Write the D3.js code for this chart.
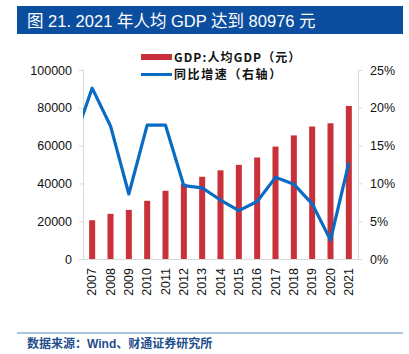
<!DOCTYPE html>
<html><head><meta charset="utf-8">
<script src="https://cdn.jsdelivr.net/npm/d3@7"></script>
<style>body{margin:0;background:#fff}svg{display:block}</style>
</head><body>
<svg id="c" width="409" height="354"></svg>
<script>
const years = ["2007","2008","2009","2010","2011","2012","2013","2014","2015","2016","2017","2018","2019","2020","2021"];
const gdpPerCapita = [20500,23900,26000,30800,36100,39800,43500,46900,49800,53700,59500,65400,70100,71800,80976];
const growth = [22.6,17.6,8.6,17.7,17.7,9.7,9.4,7.8,6.4,7.6,10.8,9.9,7.3,2.5,12.7];
const growthPrev2006 = 15.6;
const leftTicks = [0,20000,40000,60000,80000,100000];
const rightTicks = [0,5,10,15,20,25];

const svg = d3.select("#c");
const m = {l:83, r:358, t:70, b:259};
const font = "'Liberation Sans', Arial, sans-serif";
const cjk = "'Noto Sans CJK SC', sans-serif";
const mixed = "'Liberation Sans', 'Noto Sans CJK SC', sans-serif";

// title bar
svg.append("rect").attr("x",17).attr("y",6).attr("width",386).attr("height",28).attr("fill","#0b4d9e");
svg.append("text").attr("x",27).attr("y",27).attr("fill","#fff").attr("font-family",mixed)
  .attr("font-size",16.5).text("图 21. 2021 年人均 GDP 达到 80976 元");

const x = d3.scaleBand().domain(years).range([m.l,m.r]);
const yL = d3.scaleLinear().domain([0,100000]).range([m.b,m.t]);
const yR = d3.scaleLinear().domain([0,25]).range([m.b,m.t]);

const grey = "#d9d9d9";
// left axis
const gl = svg.append("g").attr("transform",`translate(${m.l},0)`)
  .call(d3.axisLeft(yL).tickValues(leftTicks).tickSize(4).tickPadding(7).tickFormat(d3.format("d")));
gl.select(".domain").attr("stroke",grey);
gl.selectAll(".tick line").attr("stroke",grey);
gl.selectAll("text").attr("font-family",font).attr("font-size",12.5).attr("fill","#111");
// right axis
const gr = svg.append("g").attr("transform",`translate(${m.r},0)`)
  .call(d3.axisRight(yR).tickValues(rightTicks).tickSize(4).tickPadding(8).tickFormat(d=>d+"%"));
gr.select(".domain").attr("stroke",grey);
gr.selectAll(".tick line").attr("stroke",grey);
gr.selectAll("text").attr("font-family",font).attr("font-size",12.5).attr("fill","#111");
// bottom axis
const gb = svg.append("g").attr("transform",`translate(0,${m.b})`)
  .call(d3.axisBottom(x).tickSize(0).tickPadding(0));
gb.select(".domain").attr("stroke",grey);
gb.selectAll("text").attr("font-family",font).attr("font-size",12.5).attr("fill","#111")
  .attr("text-anchor","end").attr("transform","translate(4,9) rotate(-90)").attr("dy","0").attr("dx","0").attr("x",0).attr("y",0);

// bars
const bw = 6;
svg.append("g").selectAll("rect").data(years).join("rect")
  .attr("x",(d)=>x(d)+x.bandwidth()/2-bw/2).attr("width",bw)
  .attr("y",(d,i)=>yL(gdpPerCapita[i])).attr("height",(d,i)=>m.b-yL(gdpPerCapita[i]))
  .attr("fill","#c8303a");

// line with clipped 2006 lead-in
svg.append("clipPath").attr("id","clip").append("rect").attr("x",m.l).attr("y",0).attr("width",m.r-m.l).attr("height",354);
const pts = [[x(years[0])+x.bandwidth()/2 - x.step(), yR(growthPrev2006)]]
  .concat(years.map((d,i)=>[x(d)+x.bandwidth()/2, yR(growth[i])]));
svg.append("path").attr("d",d3.line()(pts)).attr("clip-path","url(#clip)")
  .attr("fill","none").attr("stroke","#0a6bc4").attr("stroke-width",3.2).attr("stroke-linejoin","round");

// legend
const lg = svg.append("g");
lg.append("rect").attr("x",141).attr("y",54).attr("width",31).attr("height",6).attr("fill","#c8303a");
lg.append("text").attr("x",174).attr("y",62).attr("font-family",cjk).attr("font-size",12).attr("letter-spacing",1.1)
  .attr("font-weight","bold").attr("fill","#111").text("GDP:人均GDP（元）");
lg.append("line").attr("x1",141).attr("x2",172).attr("y1",74.5).attr("y2",74.5).attr("stroke","#0a6bc4").attr("stroke-width",3);
lg.append("text").attr("x",174).attr("y",79).attr("font-family",cjk).attr("font-size",12).attr("letter-spacing",1.6)
  .attr("font-weight","bold").attr("fill","#111").text("同比增速（右轴）");

// footer
svg.append("line").attr("x1",17).attr("x2",403).attr("y1",333).attr("y2",333).attr("stroke","#8fb0d8").attr("stroke-width",1.5);
svg.append("text").attr("x",27).attr("y",348).attr("font-family",mixed).attr("font-size",12).attr("font-weight","bold").attr("fill","#1f4e8c").text("数据来源：Wind、财通证券研究所");
</script>
</body></html>
